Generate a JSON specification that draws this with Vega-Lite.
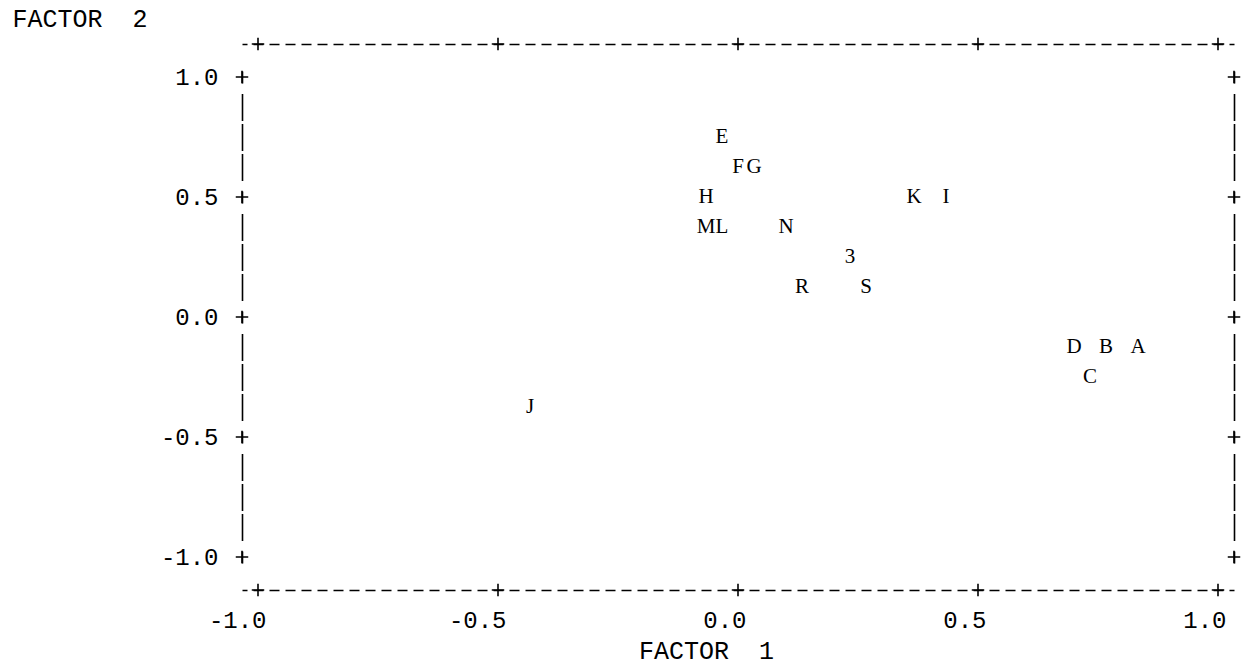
{
  "$schema": "https://vega.github.io/schema/vega-lite/v6.json",
  "width": 992,
  "height": 546,
  "autosize": {"type": "none"},
  "padding": {"left": 242, "top": 44, "right": 7, "bottom": 76},
  "background": "white",
  "config": {"view": {"stroke": null}, "axis": {"grid": false}},
  "resolve": {"axis": {"x": "independent", "y": "independent"}},
  "datasets": {
    "points": [
      {"label": "E", "f1": -0.0333, "f2": 0.75},
      {"label": "F", "f1": 0.0, "f2": 0.625},
      {"label": "G", "f1": 0.0333, "f2": 0.625},
      {"label": "H", "f1": -0.0667, "f2": 0.5},
      {"label": "K", "f1": 0.3667, "f2": 0.5},
      {"label": "I", "f1": 0.4333, "f2": 0.5},
      {"label": "M", "f1": -0.0667, "f2": 0.375},
      {"label": "L", "f1": -0.0333, "f2": 0.375},
      {"label": "N", "f1": 0.1, "f2": 0.375},
      {"label": "3", "f1": 0.2333, "f2": 0.25},
      {"label": "R", "f1": 0.1333, "f2": 0.125},
      {"label": "S", "f1": 0.2667, "f2": 0.125},
      {"label": "D", "f1": 0.7, "f2": -0.125},
      {"label": "B", "f1": 0.7667, "f2": -0.125},
      {"label": "A", "f1": 0.8333, "f2": -0.125},
      {"label": "C", "f1": 0.7333, "f2": -0.25},
      {"label": "J", "f1": -0.4333, "f2": -0.375}
    ],
    "ticks": [{"v": -1}, {"v": -0.5}, {"v": 0}, {"v": 0.5}, {"v": 1}]
  },
  "layer": [
    {
      "data": {"name": "points"},
      "mark": {"type": "text", "font": "Liberation Serif", "fontSize": 21, "align": "center", "baseline": "middle", "color": "#000"},
      "encoding": {
        "x": {
          "field": "f1", "type": "quantitative",
          "scale": {"domain": [-1.0333333333, 1.0333333333], "nice": false, "zero": false},
          "axis": {
            "orient": "bottom", "values": [-1, -0.5, 0, 0.5, 1],
            "labelExpr": "replace(format(datum.value, '.1f'), '\u2212', '-')",
            "labelFont": "Liberation Mono", "labelFontSize": 24, "labelColor": "#000",
            "labelAlign": "right", "labelBaseline": "middle", "labelOffset": 8, "labelPadding": 30,
            "labelOverlap": false, "labelFlush": false, "labelBound": false,
            "ticks": false, "tickSize": 0,
            "domainDash": [10, 6], "domainDashOffset": 5, "domainColor": "#000", "domainWidth": 1.6,
            "title": "FACTOR \u00a01", "titleFont": "Liberation Mono", "titleFontSize": 25, "titleFontWeight": "normal", "titleColor": "#000",
            "titleX": 464, "titleY": 60, "titleAlign": "center", "titleBaseline": "middle"
          }
        },
        "y": {
          "field": "f2", "type": "quantitative",
          "scale": {"domain": [-1.1375, 1.1375], "nice": false, "zero": false},
          "axis": {
            "orient": "left", "values": [-1, -0.5, 0, 0.5, 1],
            "labelExpr": "replace(format(datum.value, '.1f'), '\u2212', '-')",
            "labelFont": "Liberation Mono", "labelFontSize": 24, "labelColor": "#000",
            "labelAlign": "right", "labelBaseline": "middle", "labelPadding": 24,
            "labelOverlap": false, "labelFlush": false, "labelBound": false,
            "ticks": false, "tickSize": 0,
            "domainDash": [0, 27, 12, 10.5, 27, 3, 27, 3, 27, 10.5, 12, 10.5, 27, 3, 27, 3, 27, 10.5, 12, 10.5, 27, 3, 27, 3, 27, 10.5, 12, 10.5, 27, 3, 27, 3, 27, 10.5, 12, 27],
            "domainColor": "#000", "domainWidth": 1.6,
            "title": "FACTOR \u00a02", "titleFont": "Liberation Mono", "titleFontSize": 25, "titleFontWeight": "normal", "titleColor": "#000",
            "titleAngle": 0, "titleX": -230, "titleY": -26, "titleAlign": "left", "titleBaseline": "middle"
          }
        },
        "text": {"field": "label"}
      }
    },
    {
      "data": {"name": "ticks"},
      "mark": {"type": "point", "shape": "M-1,0H1M0,-1V1", "size": 156, "filled": false, "color": "#000", "strokeWidth": 1.6, "opacity": 1},
      "encoding": {
        "x": {
          "field": "v", "type": "quantitative",
          "scale": {"domain": [-1.0333333333, 1.0333333333], "nice": false, "zero": false},
          "axis": {
            "orient": "top", "labels": false, "ticks": false, "tickSize": 0, "title": null,
            "domainDash": [10, 6], "domainDashOffset": 5, "domainColor": "#000", "domainWidth": 1.6
          }
        },
        "y": {"datum": 1.1375, "type": "quantitative", "scale": {"domain": [-1.1375, 1.1375], "nice": false, "zero": false}, "axis": null}
      }
    },
    {
      "data": {"name": "ticks"},
      "mark": {"type": "point", "shape": "M-1,0H1M0,-1V1", "size": 156, "filled": false, "color": "#000", "strokeWidth": 1.6, "opacity": 1},
      "encoding": {
        "x": {"field": "v", "type": "quantitative", "scale": {"domain": [-1.0333333333, 1.0333333333], "nice": false, "zero": false}, "axis": null},
        "y": {"datum": -1.1375, "type": "quantitative", "scale": {"domain": [-1.1375, 1.1375], "nice": false, "zero": false}, "axis": null}
      }
    },
    {
      "data": {"name": "ticks"},
      "mark": {"type": "point", "shape": "M-1,0H1M0,-1V1", "size": 156, "filled": false, "color": "#000", "strokeWidth": 1.6, "opacity": 1},
      "encoding": {
        "x": {"datum": -1.0333333333, "type": "quantitative", "scale": {"domain": [-1.0333333333, 1.0333333333], "nice": false, "zero": false}, "axis": null},
        "y": {"field": "v", "type": "quantitative", "scale": {"domain": [-1.1375, 1.1375], "nice": false, "zero": false}, "axis": null}
      }
    },
    {
      "data": {"name": "ticks"},
      "mark": {"type": "point", "shape": "M-1,0H1M0,-1V1", "size": 156, "filled": false, "color": "#000", "strokeWidth": 1.6, "opacity": 1},
      "encoding": {
        "x": {"datum": 1.0333333333, "type": "quantitative", "scale": {"domain": [-1.0333333333, 1.0333333333], "nice": false, "zero": false}, "axis": null},
        "y": {
          "field": "v", "type": "quantitative",
          "scale": {"domain": [-1.1375, 1.1375], "nice": false, "zero": false},
          "axis": {
            "orient": "right", "labels": false, "ticks": false, "tickSize": 0, "title": null,
            "domainDash": [0, 27, 12, 10.5, 27, 3, 27, 3, 27, 10.5, 12, 10.5, 27, 3, 27, 3, 27, 10.5, 12, 10.5, 27, 3, 27, 3, 27, 10.5, 12, 10.5, 27, 3, 27, 3, 27, 10.5, 12, 27],
            "domainColor": "#000", "domainWidth": 1.6
          }
        }
      }
    }
  ]
}
